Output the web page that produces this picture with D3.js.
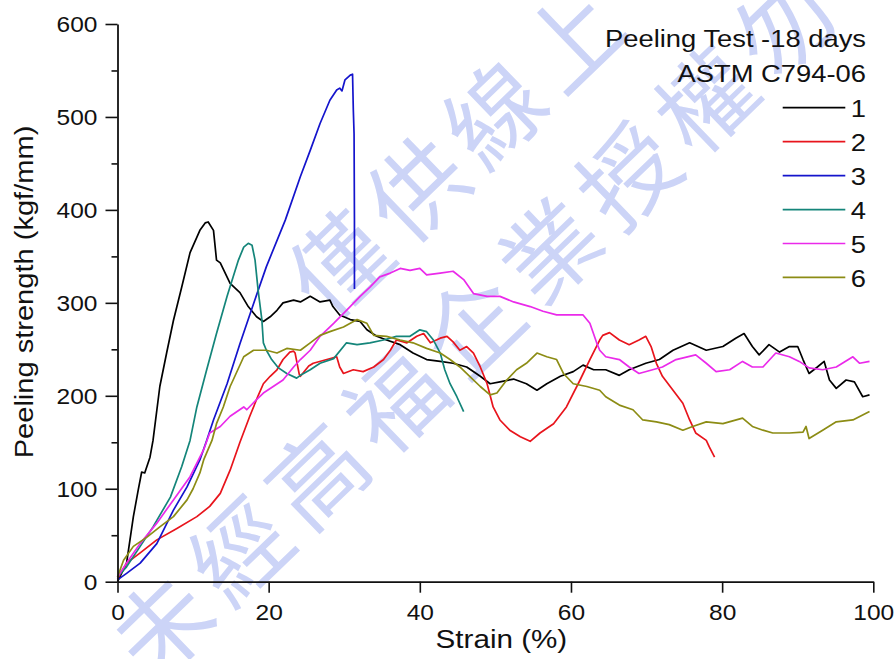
<!DOCTYPE html>
<html>
<head>
<meta charset="utf-8">
<script src="https://cdn.jsdelivr.net/npm/d3@7/dist/d3.min.js"></script>
<style>
  html, body { margin: 0; padding: 0; background: #fff; }
  svg { display: block; }
  text { font-family: "Liberation Sans", Arial, sans-serif; fill: #111; }
</style>
</head>
<body>
<svg id="chart" width="896" height="659"></svg>
<script>
// Peeling test, 18 days (ASTM C794-06): strength vs. strain for six specimens.
// Each series is a list of [strain %, peeling strength kgf/mm] readings.
const series1 = [[0,0],[1.2,20],[2.1,70],[2.75,99],[3.2,118],[3.6,117],[4.3,134],[4.7,152],[5.6,210],[6.5,246],[7.4,281],[8.5,317],[9.6,354],[10.9,378],[11.6,386],[12.0,387],[12.7,378],[13.1,346],[13.6,343],[14.9,321],[16.2,311],[17.3,296],[18.4,285],[19.3,280],[20.2,285],[21.1,292],[21.9,300],[23.3,303],[24.2,301],[25.5,307],[26.8,301],[28.1,303],[28.5,296],[29.4,287],[30.8,282],[32.1,280],[33.0,271],[34.3,264],[35.6,260],[37.4,255],[39.1,246],[40.9,239],[42.7,237],[44.4,235],[46.2,231],[48.0,221],[49.3,213],[50.6,215],[52.4,218],[54.1,213],[55.5,206],[56.8,213],[58.6,221],[60.3,226],[61.6,233],[63.0,228],[64.6,228],[66.4,222],[67.7,228],[69.9,235],[71.7,239],[73.5,249],[75.7,257],[77.9,249],[80.1,253],[81.8,262],[82.9,267],[84.0,253],[84.9,244],[86.2,255],[87.6,247],[88.9,253],[90.0,253],[90.7,239],[91.5,224],[92.6,231],[93.5,237],[94.2,217],[95.1,208],[96.4,217],[97.5,215],[98.6,199],[99.5,201]];
const series2 = [[0,3],[1.2,20],[3.0,31],[5.2,45],[7.8,57],[10.5,70],[12.2,81],[13.6,95],[14.9,120],[16.2,150],[17.5,178],[18.6,200],[19.3,213],[20.2,221],[21.1,228],[21.9,239],[22.8,247],[23.3,248],[23.5,246],[24.05,223],[24.2,221],[25.3,232],[25.9,235],[27.7,239],[29.0,242],[29.4,231],[29.9,224],[31.2,228],[32.5,226],[33.9,231],[35.2,239],[36.1,249],[36.9,260],[38.3,257],[39.6,264],[40.5,267],[41.4,257],[42.7,262],[43.6,264],[44.4,258],[45.3,249],[46.2,253],[47.1,246],[48.0,231],[48.9,213],[49.7,188],[50.6,174],[51.9,163],[53.3,156],[54.6,151],[55.9,160],[57.7,170],[59.4,188],[61.2,217],[62.5,239],[63.8,260],[64.2,265],[65.1,268],[66.4,260],[67.7,255],[69.0,260],[69.9,264],[70.6,253],[71.3,235],[72.1,221],[73.5,206],[74.8,192],[75.7,174],[76.5,160],[77.9,152],[78.3,145],[79.0,134]];
const series3 = [[0,2],[1.2,9],[3.0,20],[5.2,41],[7.4,77],[9.2,102],[10.9,131],[11.8,152],[12.7,174],[14.5,213],[16.2,256],[18.0,299],[19.7,339],[21.5,375],[22.2,389],[24.2,436],[25.5,464],[26.8,493],[28.1,518],[29.0,529],[29.4,531],[29.7,528],[30.1,540],[30.8,545],[31.1,546],[31.2,508],[31.3,482],[31.35,389],[31.35,315]];
const series4 = [[0,5],[1.2,16],[3.0,38],[4.7,59],[7.0,91],[8.5,124],[9.6,152],[10.5,188],[11.8,228],[13.1,267],[14.5,307],[16.0,346],[16.7,360],[17.3,364],[17.8,362],[18.2,346],[18.6,314],[19.1,282],[19.3,257],[19.7,249],[20.4,239],[21.3,230],[22.4,224],[23.7,219],[24.2,222],[25.5,228],[26.8,235],[28.6,240],[30.3,257],[31.7,255],[33.4,257],[35.2,260],[36.9,264],[38.7,264],[40.0,271],[40.9,269],[41.8,260],[42.7,246],[43.3,228],[44.0,213],[44.9,199],[45.8,183]];
const series5 = [[0,5],[1.2,20],[3.0,41],[5.2,63],[7.4,88],[9.6,113],[11.4,142],[12.2,160],[13.6,167],[14.9,178],[16.7,188],[17.1,185],[18.4,196],[19.3,203],[20.6,210],[21.9,217],[23.3,231],[24.2,239],[25.5,249],[26.8,264],[28.6,278],[30.3,292],[32.1,307],[33.4,317],[34.7,328],[36.1,332],[37.4,337],[38.7,335],[40.0,337],[40.9,330],[42.7,332],[44.4,334],[45.8,325],[47.1,310],[48.9,307],[50.6,307],[52.4,301],[54.6,296],[56.3,291],[58.1,287],[59.9,287],[61.6,287],[62.5,278],[63.4,257],[63.8,249],[64.6,242],[66.4,239],[67.7,231],[69.0,224],[70.8,228],[72.1,231],[73.9,239],[76.5,244],[77.9,235],[79.2,226],[81.0,228],[82.7,237],[84.0,231],[85.4,231],[87.1,246],[88.9,242],[90.2,237],[91.5,230],[93.3,228],[95.1,231],[97.3,242],[98.2,235],[99.5,237]];
const series6 = [[0,5],[0.8,23],[2.1,38],[3.9,48],[5.6,59],[7.4,70],[9.2,88],[10.0,100],[10.9,117],[11.4,131],[12.5,152],[13.1,170],[14.0,188],[14.9,210],[15.3,217],[16.7,242],[18.0,249],[19.7,249],[21.1,246],[22.4,251],[24.2,249],[25.5,257],[26.8,265],[28.1,269],[29.9,274],[31.7,282],[33.0,278],[33.9,265],[35.6,264],[37.4,260],[39.1,257],[40.9,251],[42.7,246],[44.0,239],[45.3,231],[46.6,221],[48.0,210],[49.3,201],[50.2,203],[51.5,217],[52.8,228],[54.1,235],[55.5,246],[56.8,242],[58.1,239],[59.0,224],[60.3,213],[62.1,210],[63.8,206],[64.6,199],[66.4,190],[68.2,185],[69.5,174],[71.3,172],[73.0,169],[74.8,163],[76.1,167],[77.9,172],[80.1,170],[82.7,176],[84.0,167],[85.4,163],[86.7,160],[88.9,160],[90.7,161],[91.1,167],[91.5,154],[93.3,163],[95.1,172],[97.3,174],[99.5,183]];

const seriesNames = ["1", "2", "3", "4", "5", "6"];
const seriesColors = ["#000000", "#e8141c", "#1414cc", "#14857a", "#ea2aea", "#8c8c14"];
const legendTitle = ["Peeling Test -18 days", "ASTM C794-06"];
const xTicks = [0, 20, 40, 60, 80, 100];
const yTicks = [0, 100, 200, 300, 400, 500, 600];
const yMinorTicks = [50, 150, 250, 350, 450, 550];
const watermarkRows = ["僅供線上", "未經高福企業授權勿"];

const allSeries = [series1, series2, series3, series4, series5, series6];
const svg = d3.select("#chart");
const stretch = 1.14; // the chart's typeface is set slightly wide

const x = d3.scaleLinear().domain([0, 100]).range([117.5, 873.3]);
const y = d3.scaleLinear().domain([0, 600]).range([581.7, 24]);

// pale diagonal watermark lettering behind the plot
const wm = svg.append("g");
const wmAngle = -44 * Math.PI / 180;
const step = 108;
const rowStarts = [[340, 265], [163, 627]];
watermarkRows.forEach((row, r) => {
  const [sx, sy] = rowStarts[r];
  Array.from(row).forEach((ch, i) => {
    const cx = sx + i * step * Math.cos(wmAngle);
    const cy = sy + i * step * Math.sin(wmAngle);
    wm.append("text")
      .attr("transform", `translate(${cx},${cy}) rotate(-44)`)
      .attr("text-anchor", "middle")
      .attr("dy", "0.36em")
      .style("font-family", "'Noto Sans CJK TC', 'Noto Sans CJK SC', sans-serif")
      .style("font-size", "96px")
      .style("font-weight", "400")
      .style("fill", "#ccd4f7")
      .text(ch);
  });
});

// data curves
const line = d3.line().x(d => x(d[0])).y(d => y(d[1]));
svg.append("g").selectAll("path")
  .data(allSeries)
  .join("path")
  .attr("d", line)
  .attr("fill", "none")
  .attr("stroke", (d, i) => seriesColors[i])
  .attr("stroke-width", 1.7)
  .attr("stroke-linejoin", "round");

// axes
const axisStyle = g => {
  g.selectAll(".domain").attr("stroke", "#111").attr("stroke-width", 1.8);
  g.selectAll(".tick line").attr("stroke", "#111").attr("stroke-width", 1.6);
};

const xAxis = svg.append("g")
  .attr("transform", `translate(0,${y(0)})`)
  .call(d3.axisBottom(x).tickValues(xTicks).tickSize(11).tickSizeOuter(0).tickPadding(0))
  .call(axisStyle);
xAxis.selectAll(".tick text").remove();
xAxis.selectAll(".tick").append("text")
  .attr("transform", `translate(0,38) scale(${stretch},1)`)
  .attr("text-anchor", "middle")
  .style("font-size", "21.5px")
  .text(d => d);

const yAxis = svg.append("g")
  .attr("transform", `translate(${x(0)},0)`)
  .call(d3.axisLeft(y).tickValues(yTicks).tickSize(12).tickSizeOuter(0))
  .call(axisStyle);
yAxis.selectAll(".tick text").remove();
yAxis.selectAll(".tick").append("text")
  .attr("transform", `translate(-20,7.6) scale(${stretch},1)`)
  .attr("text-anchor", "end")
  .style("font-size", "21.5px")
  .text(d => d);

svg.append("g")
  .attr("transform", `translate(${x(0)},0)`)
  .call(d3.axisLeft(y).tickValues(yMinorTicks).tickSize(6).tickFormat(""))
  .call(g => g.select(".domain").remove())
  .call(axisStyle);

// axis titles
svg.append("text")
  .attr("transform", `translate(${(x(0) + x(100)) / 2 + 6},648) scale(${stretch},1)`)
  .attr("text-anchor", "middle")
  .style("font-size", "26px")
  .text("Strain (%)");

svg.append("text")
  .attr("transform", `translate(33,292) rotate(-90) scale(${stretch},1)`)
  .attr("text-anchor", "middle")
  .style("font-size", "25.5px")
  .text("Peeling strength (kgf/mm)");

// legend
const legend = svg.append("g");
legend.selectAll("text.title")
  .data(legendTitle)
  .join("text")
  .attr("class", "title")
  .attr("transform", (d, i) => `translate(866,${47 + i * 34.8}) scale(${stretch},1)`)
  .attr("text-anchor", "end")
  .style("font-size", "24px")
  .text(d => d);

const rows = legend.selectAll("g.row")
  .data(seriesNames)
  .join("g")
  .attr("class", "row")
  .attr("transform", (d, i) => `translate(0,${107.7 + i * 33.95})`);
rows.append("line")
  .attr("x1", 782.7).attr("x2", 845.3)
  .attr("y1", 0).attr("y2", 0)
  .attr("stroke", (d, i) => seriesColors[i])
  .attr("stroke-width", 1.7);
rows.append("text")
  .attr("transform", `translate(866,9.6) scale(${stretch},1)`)
  .attr("text-anchor", "end")
  .style("font-size", "24px")
  .text(d => d);
</script>
</body>
</html>
